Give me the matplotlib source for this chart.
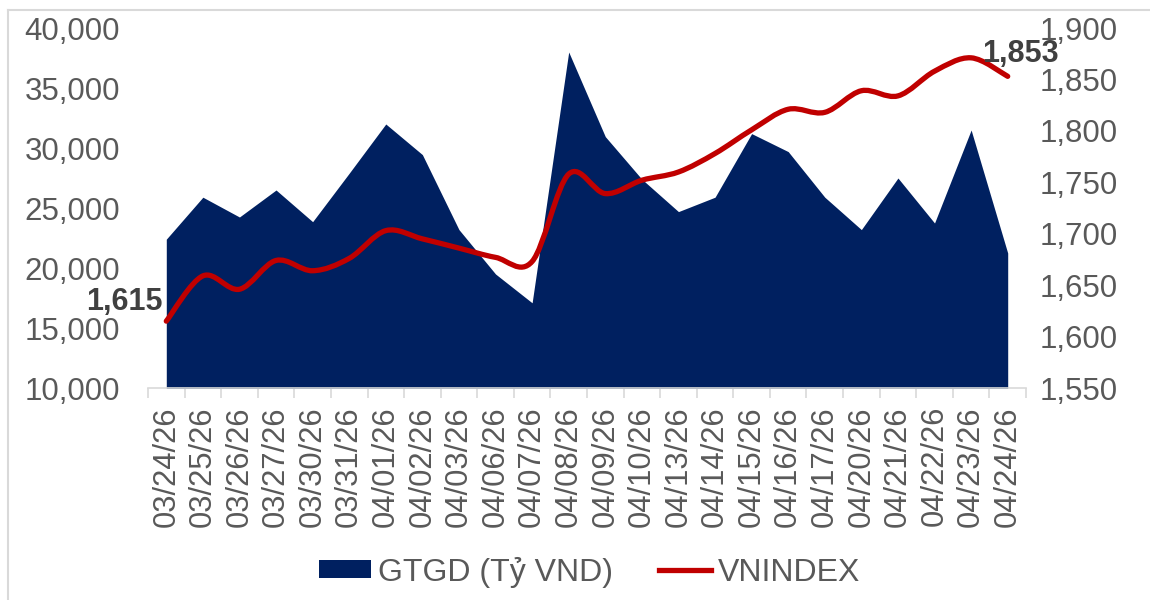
import numpy as np
import matplotlib
matplotlib.use("Agg")
import matplotlib.pyplot as plt
from matplotlib.path import Path
from matplotlib.patches import PathPatch, Patch
from matplotlib.lines import Line2D

plt.rcParams['font.family'] = ['Liberation Sans', 'DejaVu Sans']

dates = ["03/24/26", "03/25/26", "03/26/26", "03/27/26", "03/30/26", "03/31/26",
         "04/01/26", "04/02/26", "04/03/26", "04/06/26", "04/07/26", "04/08/26",
         "04/09/26", "04/10/26", "04/13/26", "04/14/26", "04/15/26", "04/16/26",
         "04/17/26", "04/20/26", "04/21/26", "04/22/26", "04/23/26", "04/24/26"]
gtgd = [22400, 25900, 24250, 26500, 23860, 27900, 32000, 29450, 23200, 19500,
        17100, 38000, 30950, 27400, 24700, 25900, 31200, 29700, 25900, 23200,
        27500, 23750, 31500, 21250]
vnindex = [1615, 1659, 1646, 1674, 1664, 1676, 1703, 1695, 1686, 1677, 1673, 1758,
           1739, 1752, 1760, 1778, 1801, 1821, 1818, 1839, 1834, 1858, 1871, 1853]

NAVY = "#002060"
RED = "#C00000"
GRAY = "#595959"
FS = 22.5

n = len(dates)
x = np.arange(n)

fig = plt.figure(figsize=(11.5, 6.0), dpi=100)
ax = fig.add_axes([148 / 1150, 1 - 388 / 600, (1026 - 148) / 1150, 360 / 600])
ax2 = ax.twinx()

ax.fill_between(x, 0, gtgd, color=NAVY, linewidth=0, zorder=2)
ax.set_xlim(-0.5, n - 0.5)
ax.set_ylim(10000, 40000)
ax.set_yticks(np.arange(10000, 40001, 5000))
ax.yaxis.set_major_formatter(matplotlib.ticker.FuncFormatter(lambda v, p: f"{v:,.0f}"))

# smoothed line, Excel-style: Catmull-Rom Bezier through the data points
pts = np.column_stack([x, vnindex]).astype(float)
padded = np.vstack([pts[0], pts, pts[-1]])
verts = [tuple(pts[0])]
codes = [Path.MOVETO]
for i in range(n - 1):
    p0, p1, p2, p3 = padded[i], padded[i + 1], padded[i + 2], padded[i + 3]
    c1 = p1 + (p2 - p0) / 6.0
    c2 = p2 - (p3 - p1) / 6.0
    verts += [tuple(c1), tuple(c2), tuple(p2)]
    codes += [Path.CURVE4] * 3
ax2.add_patch(PathPatch(Path(verts, codes), facecolor="none", edgecolor=RED,
                        linewidth=3.8, capstyle="round", joinstyle="round", zorder=3))
ax2.set_ylim(1550, 1900)
ax2.set_yticks(np.arange(1550, 1901, 50))
ax2.yaxis.set_major_formatter(matplotlib.ticker.FuncFormatter(lambda v, p: f"{v:,.0f}"))

ax2.annotate(f"{vnindex[0]:,}", (x[0], vnindex[0]), xytext=(-3, 14), textcoords="offset points",
             ha="right", va="center", fontsize=22, fontweight="bold", color="#404040")
ax2.annotate(f"{vnindex[-1]:,}", (x[-1], vnindex[-1]), xytext=(9, 16), textcoords="offset points",
             ha="center", va="center", fontsize=22, fontweight="bold", color="#404040")

for a in (ax, ax2):
    for s in a.spines.values():
        s.set_visible(False)
ax.spines["bottom"].set_visible(True)
ax.spines["bottom"].set_color("#D9D9D9")
ax.spines["bottom"].set_linewidth(1.2)

ax.set_xticks(x)
ax.set_xticklabels(dates, rotation=90, fontsize=22.3, color=GRAY)
ax.tick_params(axis="x", length=0, pad=13)
ax.set_xticks(np.arange(-0.5, n, 1.0), minor=True)
ax.tick_params(axis="x", which="minor", length=7, color="#D9D9D9", width=1.2)
ax.tick_params(axis="y", length=0, labelsize=FS, labelcolor=GRAY, pad=20)
ax2.tick_params(axis="y", length=0, labelsize=FS, labelcolor=GRAY, pad=10)

handles = [Patch(facecolor=NAVY, edgecolor="none"),
           Line2D([0], [0], color=RED, linewidth=3.8)]
fig.legend(handles, ["GTGD (Tỷ VND)", "VNINDEX"], loc="center", bbox_to_anchor=(0.513, 1 - 572 / 600),
           ncol=2, frameon=False, fontsize=23, labelcolor=GRAY, handlelength=1.62,
           handleheight=0.5, handletextpad=0.22, columnspacing=1.45)

# chart frame
fig.add_artist(Line2D([8 / 1150, 1], [1 - 10 / 600] * 2, color="#D9D9D9", linewidth=1.5))
fig.add_artist(Line2D([8 / 1150] * 2, [0, 1 - 10 / 600], color="#D9D9D9", linewidth=1.5))

fig.savefig("out.png", dpi=100)
